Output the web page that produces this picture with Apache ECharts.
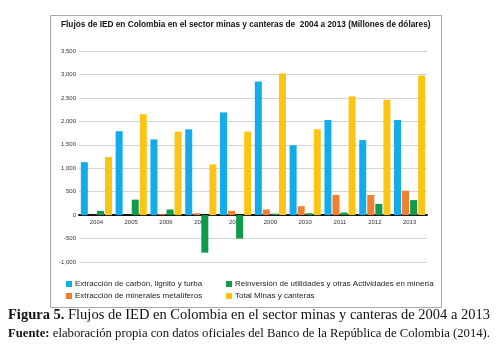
<!DOCTYPE html>
<html>
<head>
<meta charset="utf-8">
<script src="https://cdn.jsdelivr.net/npm/echarts@6/dist/echarts.min.js"></script>
<style>
  html, body { margin: 0; padding: 0; background: #fff; }
  #chart { width: 497px; height: 355px; }
</style>
</head>
<body>
<div id="chart"></div>
<script>
// datos (millones de dólares)
var years = ['2004', '2005', '2006', '2007', '2008', '2009', '2010', '2011', '2012', '2013'];
var carbon = [1130, 1790, 1615, 1830, 2190, 2850, 1490, 2030, 1600, 2030];
var metaliferos = [0, 0, 20, 40, 90, 120, 190, 430, 430, 520];
var reinversion = [90, 330, 120, -800, -500, 30, 40, 55, 240, 320];
var totalMinas = [1240, 2150, 1780, 1080, 1780, 3020, 1830, 2530, 2460, 2980];
var yTicks = { min: -1000, max: 3500, step: 500 };

var names = [
    'Extracción de carbón, lignito y turba',
    'Extracción de minerales metalíferos',
    'Reinversión de utilidades y otras Actividades en minería',
    'Total Minas y canteras'
];
var colors = ['#12acea', '#f07f2f', '#109a4c', '#fdc513'];
var narrow = "'Liberation Sans Narrow', 'Arial Narrow', 'Liberation Sans', Arial, sans-serif";

var gridTop = 51, gridBottom = 93;
var plotH = 355 - gridTop - gridBottom;
// el eje x va sobre la línea del cero
var zeroOffset = -plotH * (0 - yTicks.min) / (yTicks.max - yTicks.min);

var myChart = echarts.init(document.getElementById('chart'));

function bar(i, data) {
    return {
        name: names[i],
        type: 'bar',
        data: data,
        barWidth: 7,
        barGap: '15%',
        itemStyle: { color: colors[i] }
    };
}

var legendText = { fontFamily: narrow, fontSize: 8, color: '#222', padding: [0, 0, 0, -2] };

var option = {
    animation: false,
    grid: { left: 79, right: 70, top: gridTop, bottom: gridBottom },
    legend: [{
        orient: 'vertical',
        left: 61, top: 275,
        itemWidth: 6, itemHeight: 6, itemGap: 4,
        icon: 'rect',
        data: [names[0], names[1]],
        textStyle: legendText
    }, {
        orient: 'vertical',
        left: 221, top: 275,
        itemWidth: 6, itemHeight: 6, itemGap: 4,
        icon: 'rect',
        data: [names[2], names[3]],
        textStyle: legendText
    }],
    xAxis: {
        type: 'category',
        data: years,
        offset: zeroOffset,
        axisLine: { onZero: false, lineStyle: { color: '#111', width: 2 } },
        axisTick: { show: false },
        axisLabel: { fontFamily: narrow, fontSize: 6, color: '#333', margin: 4 }
    },
    yAxis: {
        type: 'value',
        min: yTicks.min, max: yTicks.max, interval: yTicks.step,
        axisLine: { show: false },
        axisTick: { show: false },
        axisLabel: {
            fontFamily: narrow, fontSize: 6, color: '#333', margin: 3,
            formatter: function (v) { return v.toLocaleString('en-US'); }
        },
        splitLine: { lineStyle: { color: '#d4d4d4', width: 1 } }
    },
    graphic: [{
        type: 'rect',
        shape: { x: 50.5, y: 15.5, width: 391, height: 292 },
        style: { fill: 'none', stroke: '#a8a8a8', lineWidth: 1 },
        z: -1
    }, {
        type: 'text',
        x: 61, y: 20,
        scaleX: 0.92,
        style: {
            text: 'Flujos de IED en Colombia en el sector minas y canteras de  2004 a 2013 (Millones de dólares)',
            font: 'bold 9px ' + narrow,
            fill: '#111'
        }
    }, {
        type: 'text',
        left: 8, top: 308,
        style: {
            rich: {
                b: { font: 'bold 14.5px "Liberation Serif", serif', fill: '#111' },
                n: { font: '14.5px "Liberation Serif", serif', fill: '#111' }
            },
            text: '{b|Figura 5.}{n| Flujos de IED en Colombia en el sector minas y canteras de 2004 a 2013}'
        }
    }, {
        type: 'text',
        left: 8, top: 327,
        style: {
            rich: {
                b: { font: 'bold 12.7px "Liberation Serif", serif', fill: '#111' },
                n: { font: '12.7px "Liberation Serif", serif', fill: '#111' }
            },
            text: '{b|Fuente:}{n| elaboración propia con datos oficiales del Banco de la República de Colombia (2014).}'
        }
    }],
    series: [
        bar(0, carbon),
        bar(1, metaliferos),
        bar(2, reinversion),
        bar(3, totalMinas)
    ]
};
myChart.setOption(option);
</script>
</body>
</html>
